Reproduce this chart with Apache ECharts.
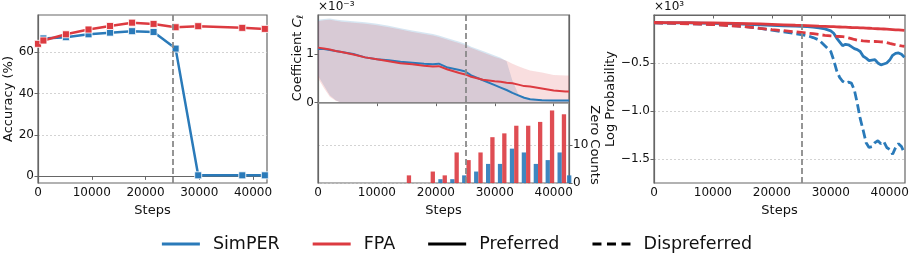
<!DOCTYPE html>
<html><head><meta charset="utf-8">
<script src="https://cdn.jsdelivr.net/npm/echarts@6/dist/echarts.min.js"></script>
<style>html,body{margin:0;padding:0;background:#fff}#c{width:914px;height:262px}</style>
</head><body><div id="c"></div>
<script>
// ---------- data ----------
const stepTicks = [0, 10000, 20000, 30000, 40000];
const dividerStep = 25000;

// Panel 1: accuracy
const accSteps = [0, 1000, 5200, 9400, 13400, 17500, 21500, 25600, 29800, 38000, 42200];
const accSimPER = [null, 66.5, 67.1, 68.5, 69.3, 70.0, 69.6, 61.6, 0.5, 0.5, 0.5];
const accFPA = [63.9, 65.5, 68.5, 70.8, 72.5, 74.1, 73.5, 71.9, 72.4, 71.6, 71.1];
const accTicks = [0, 20, 40, 60];

// Panel 2: coefficient (x1e-3) and zero counts
const coefSteps = [0, 1000, 2000, 3000, 4000, 6000, 8000, 10000, 12000, 14000, 16000, 18000, 19500, 20500, 22000, 24000, 25000, 26000, 28000, 30000, 31000, 32000, 33000, 34000, 35000, 36000, 38000, 40000, 42000, 42600];
const coefSimPER = [1.10, 1.10, 1.08, 1.06, 1.04, 1.00, 0.93, 0.89, 0.87, 0.84, 0.82, 0.80, 0.79, 0.80, 0.72, 0.67, 0.64, 0.56, 0.46, 0.36, 0.31, 0.26, 0.20, 0.15, 0.10, 0.07, 0.05, 0.045, 0.043, 0.043];
const coefFPA = [1.13, 1.11, 1.09, 1.06, 1.04, 0.99, 0.93, 0.89, 0.85, 0.81, 0.79, 0.76, 0.74, 0.75, 0.68, 0.61, 0.58, 0.53, 0.47, 0.44, 0.43, 0.41, 0.40, 0.37, 0.34, 0.33, 0.29, 0.25, 0.23, 0.23];
const coefSimPERUpper = [1.70, 1.72, 1.73, 1.71, 1.69, 1.67, 1.65, 1.62, 1.58, 1.53, 1.48, 1.44, 1.41, 1.38, 1.32, 1.25, 1.21, 1.15, 1.06, 0.97, 0.92, 0.85, 0.45, 0.18, 0.10, 0.08, 0.07, 0.06, 0.06, 0.06];
const coefSimPERLower = [0.55, 0.35, 0.15, 0.05, 0, 0, 0, 0, 0, 0, 0, 0, 0, 0, 0, 0, 0, 0, 0, 0, 0, 0, 0, 0, 0, 0, 0, 0, 0, 0];
const coefFPAUpper = [1.67, 1.69, 1.70, 1.68, 1.66, 1.64, 1.62, 1.59, 1.55, 1.50, 1.45, 1.41, 1.38, 1.35, 1.29, 1.22, 1.18, 1.12, 1.03, 0.94, 0.90, 0.86, 0.80, 0.75, 0.70, 0.66, 0.62, 0.57, 0.56, 0.56];
const coefFPALower = [0.50, 0.30, 0.12, 0.04, 0, 0, 0, 0, 0, 0, 0, 0, 0, 0, 0, 0, 0, 0, 0, 0, 0, 0, 0, 0, 0, 0, 0, 0, 0, 0];
const coefTicks = [0, 1];
const zeroBins = [15070, 17100, 19120, 21150, 23170, 25190, 27220, 29240, 31260, 33290, 35310, 37340, 39360, 41380, 43000];
const zeroSimPER = [0, 0, 0, 1, 1, 2, 3, 5, 5, 9, 8, 5, 6, 8, 2];
const zeroFPA = [2, 0, 3, 2, 8, 6, 8, 12, 13, 15, 15, 16, 19, 18, 0];
const zeroTicks = [0, 10];

// Panel 3: log probability (x1e3)
const logSteps = [0, 2000, 4000, 6000, 8000, 10000, 12000, 14000, 16000, 18000, 20000, 22000, 24000, 25000, 26000, 27000, 28000, 29000, 30000, 30500, 31000, 31500, 32000, 32500, 33000, 33500, 34000, 34500, 35000, 35500, 36000, 36500, 37000, 37500, 38000, 38500, 39000, 39500, 40000, 40500, 41000, 41500, 42000, 42500];
const logPrefSimPER = [-0.080, -0.081, -0.082, -0.083, -0.085, -0.087, -0.090, -0.093, -0.097, -0.103, -0.108, -0.112, -0.116, -0.119, -0.122, -0.127, -0.135, -0.145, -0.165, -0.19, -0.24, -0.28, -0.32, -0.305, -0.31, -0.33, -0.35, -0.36, -0.38, -0.43, -0.45, -0.475, -0.47, -0.465, -0.50, -0.52, -0.51, -0.50, -0.47, -0.42, -0.40, -0.395, -0.41, -0.44];
const logDispSimPER = [-0.082, -0.084, -0.087, -0.090, -0.094, -0.099, -0.106, -0.114, -0.124, -0.140, -0.158, -0.175, -0.195, -0.205, -0.215, -0.235, -0.26, -0.32, -0.38, -0.47, -0.58, -0.65, -0.69, -0.71, -0.70, -0.71, -0.78, -0.92, -1.08, -1.20, -1.33, -1.38, -1.37, -1.33, -1.31, -1.34, -1.32, -1.38, -1.40, -1.45, -1.38, -1.34, -1.37, -1.44];
const logPrefFPA = [-0.078, -0.079, -0.079, -0.080, -0.081, -0.083, -0.085, -0.087, -0.089, -0.093, -0.097, -0.102, -0.107, -0.109, -0.111, -0.113, -0.116, -0.118, -0.121, -0.122, -0.124, -0.125, -0.126, -0.127, -0.128, -0.130, -0.131, -0.132, -0.134, -0.135, -0.137, -0.138, -0.140, -0.141, -0.143, -0.145, -0.146, -0.148, -0.150, -0.152, -0.154, -0.156, -0.158, -0.160];
const logDispFPA = [-0.082, -0.085, -0.088, -0.091, -0.095, -0.100, -0.107, -0.115, -0.125, -0.140, -0.152, -0.163, -0.176, -0.182, -0.188, -0.195, -0.203, -0.212, -0.218, -0.220, -0.222, -0.224, -0.226, -0.230, -0.238, -0.246, -0.255, -0.262, -0.267, -0.270, -0.272, -0.274, -0.275, -0.276, -0.278, -0.280, -0.282, -0.288, -0.296, -0.303, -0.310, -0.316, -0.322, -0.327];
const logTicks = [-1.5, -1.0, -0.5];

const legendNames = ['SimPER', 'FPA', 'Preferred', 'Dispreferred'];

// ---------- chart ----------
const FONT = 'DejaVu Sans';
const BLUE = '#2a7ab9', RED = '#dc3a40', GRAYDASH = '#8a8a8a', FRAME = '#666';
const stepMax = 42600;
const pairs = (xs, ys) => xs.map((x, i) => [x, ys[i]]);
const minus = v => (v < 0 ? '\u2212' : '') + Math.abs(v).toFixed(1);
const plain = v => String(v);

function xAxisFor(g) {
  return {
    type: 'value', gridIndex: g, min: 0, max: stepMax,
    name: 'Steps', nameLocation: 'middle', nameGap: 16,
    nameTextStyle: { fontFamily: FONT, fontSize: 13, color: '#111' },
    axisLine: { show: true, lineStyle: { color: FRAME, width: 1.2 } },
    axisTick: { show: true, length: 3.5, lineStyle: { color: FRAME }, customValues: stepTicks },
    axisLabel: { customValues: stepTicks, formatter: plain, fontFamily: FONT, fontSize: 12, color: '#111', margin: 4 },
    splitLine: { show: false }
  };
}
const gridStyle = { show: true, borderColor: FRAME, borderWidth: 1.2, backgroundColor: 'transparent', containLabel: false };
const dotted = { show: true, lineStyle: { color: '#c8c8c8', type: [2, 2], width: 0.8 } };
const divider = () => ({ silent: true, symbol: 'none', animation: false, label: { show: false },
  lineStyle: { color: GRAYDASH, width: 1.8, type: [6, 3] }, data: [{ xAxis: dividerStep }] });

function bandSeries(name, lower, upper, fill) {
  return {
    name, type: 'custom', xAxisIndex: 1, yAxisIndex: 1, z: 1, silent: true,
    data: coefSteps.map((x, i) => [x, lower[i], upper[i]]),
    encode: { x: 0, y: [1, 2] },
    renderItem: (params, api) => {
      if (params.dataIndex !== 0) return null;
      const top = coefSteps.map((x, i) => api.coord([x, upper[i]]));
      const bot = coefSteps.map((x, i) => api.coord([x, lower[i]])).reverse();
      return { type: 'polygon', shape: { points: top.concat(bot) }, style: { fill: fill } };
    }
  };
}

const lineIcon = 'path://M0,0h38v3h-38z';
const dashIcon = 'path://M0,0h9v3h-9z M14.5,0h9v3h-9z M29,0h9v3h-9z';

const option = {
  animation: false,
  grid: [
    Object.assign({ left: 38, top: 15, width: 229, height: 168 }, gridStyle),
    Object.assign({ left: 318, top: 15, width: 251, height: 168 }, gridStyle),
    Object.assign({ left: 654, top: 15, width: 251, height: 168 }, gridStyle)
  ],
  xAxis: [xAxisFor(0), xAxisFor(1), xAxisFor(2)],
  yAxis: [
    { type: 'value', gridIndex: 0, min: -3.2, max: 77.8,
      name: 'Accuracy (%)', nameLocation: 'middle', nameGap: 21,
      nameTextStyle: { fontFamily: FONT, fontSize: 13, color: '#111' },
      axisLine: { show: true, lineStyle: { color: FRAME, width: 1.2 } },
      axisTick: { show: true, length: 3.5, lineStyle: { color: FRAME }, customValues: accTicks },
      axisLabel: { customValues: accTicks, fontFamily: FONT, fontSize: 12, color: '#111', margin: 4 },
      splitLine: dotted },
    { type: 'value', gridIndex: 1, min: -1.65, max: 1.8,
      axisLine: { show: true, lineStyle: { color: FRAME, width: 1.2 } },
      axisTick: { show: true, length: 3.5, lineStyle: { color: FRAME }, customValues: coefTicks },
      axisLabel: { customValues: coefTicks, fontFamily: FONT, fontSize: 12, color: '#111', margin: 4 },
      splitLine: { show: false } },
    { type: 'value', gridIndex: 1, position: 'right', min: 0, max: 44,
      axisLine: { show: true, lineStyle: { color: FRAME, width: 1.2 } },
      axisTick: { show: true, length: 3.5, lineStyle: { color: FRAME }, customValues: zeroTicks },
      axisLabel: { customValues: zeroTicks, fontFamily: FONT, fontSize: 12, color: '#111', margin: 4 },
      splitLine: dotted },
    { type: 'value', gridIndex: 2, min: -1.75, max: 0,
      name: 'Log Probability', nameLocation: 'middle', nameGap: 36,
      nameTextStyle: { fontFamily: FONT, fontSize: 13, color: '#111' },
      axisLine: { show: true, lineStyle: { color: FRAME, width: 1.2 } },
      axisTick: { show: true, length: 3.5, lineStyle: { color: FRAME }, customValues: logTicks },
      axisLabel: { customValues: logTicks, formatter: minus, fontFamily: FONT, fontSize: 12, color: '#111', margin: 4 },
      splitLine: dotted }
  ],
  legend: {
    data: [
      { name: 'SimPER', icon: lineIcon },
      { name: 'FPA', icon: lineIcon },
      { name: 'Preferred', icon: lineIcon },
      { name: 'Dispreferred', icon: dashIcon }
    ],
    left: 'center', top: 230, itemWidth: 38, itemHeight: 3, itemGap: 33,
    textStyle: { fontFamily: FONT, fontSize: 17.5, color: '#111', padding: [0, 0, 0, 8] },
    selectedMode: false
  },
  graphic: [
    { type: 'text', x: 318, y: 1, style: { text: '\u00d710\u207b\u00b3', font: '12px "DejaVu Sans"', fill: '#111' } },
    { type: 'text', x: 654, y: 1, style: { text: '\u00d710\u00b3', font: '12px "DejaVu Sans"', fill: '#111' } },
    { type: 'text', x: 298, y: 58, rotation: Math.PI / 2,
      style: { text: 'Coefficient {i|C}{s|\u2113}', font: '13px "DejaVu Sans"', fill: '#111', align: 'center', verticalAlign: 'middle',
        rich: { i: { fontStyle: 'italic', fontFamily: FONT, fontSize: 13 }, s: { fontStyle: 'italic', fontFamily: FONT, fontSize: 9, padding: [6, 0, 0, 0] } } } },
    { type: 'text', x: 594, y: 145, rotation: -Math.PI / 2,
      style: { text: 'Zero Counts', font: '13px "DejaVu Sans"', fill: '#111', align: 'center', verticalAlign: 'middle' } }
  ],
  series: [
    // Panel 1
    { name: 'SimPER acc', type: 'line', xAxisIndex: 0, yAxisIndex: 0, data: pairs(accSteps, accSimPER),
      symbol: 'rect', symbolSize: 7, lineStyle: { color: BLUE, width: 2.5 },
      itemStyle: { color: BLUE, borderColor: '#fff', borderWidth: 0.8 }, z: 3 },
    { name: 'FPA acc', type: 'line', xAxisIndex: 0, yAxisIndex: 0, data: pairs(accSteps, accFPA),
      symbol: 'rect', symbolSize: 7, lineStyle: { color: RED, width: 2.5 },
      itemStyle: { color: RED, borderColor: '#fff', borderWidth: 0.8 }, z: 4,
      markLine: divider() },
    // Panel 2 bands
    bandSeries('simBand', coefSimPERLower, coefSimPERUpper, 'rgba(42,122,185,0.19)'),
    bandSeries('fpaBand', coefFPALower, coefFPAUpper, 'rgba(220,58,64,0.17)'),
    // Panel 2 bars
    { name: 'SimPER zero', type: 'bar', xAxisIndex: 1, yAxisIndex: 2, data: pairs(zeroBins, zeroSimPER),
      barWidth: 4.3, barGap: '0%', itemStyle: { color: BLUE, opacity: 0.9 }, z: 2 },
    { name: 'FPA zero', type: 'bar', xAxisIndex: 1, yAxisIndex: 2, data: pairs(zeroBins, zeroFPA),
      barWidth: 4.3, barGap: '0%', itemStyle: { color: RED, opacity: 0.9 }, z: 2 },
    // Panel 2 lines
    { name: 'SimPER coef', type: 'line', xAxisIndex: 1, yAxisIndex: 1, data: pairs(coefSteps, coefSimPER),
      symbol: 'none', lineStyle: { color: BLUE, width: 2 }, z: 3 },
    { name: 'FPA coef', type: 'line', xAxisIndex: 1, yAxisIndex: 1, data: pairs(coefSteps, coefFPA),
      symbol: 'none', lineStyle: { color: RED, width: 2 }, z: 4,
      markLine: { silent: true, symbol: 'none', label: { show: false },
        data: [
          { yAxis: 0, lineStyle: { color: '#909090', width: 1.6, type: 'solid' } },
          { xAxis: dividerStep, lineStyle: { color: GRAYDASH, width: 1.8, type: [6, 3] } }
        ] } },
    // Panel 3
    { name: 'SimPER pref', type: 'line', xAxisIndex: 2, yAxisIndex: 3, data: pairs(logSteps, logPrefSimPER),
      symbol: 'none', lineStyle: { color: BLUE, width: 2.8 }, z: 3 },
    { name: 'SimPER disp', type: 'line', xAxisIndex: 2, yAxisIndex: 3, data: pairs(logSteps, logDispSimPER),
      symbol: 'none', lineStyle: { color: BLUE, width: 2.8, type: [9, 4] }, z: 3 },
    { name: 'FPA pref', type: 'line', xAxisIndex: 2, yAxisIndex: 3, data: pairs(logSteps, logPrefFPA),
      symbol: 'none', lineStyle: { color: RED, width: 2.8 }, z: 4 },
    { name: 'FPA disp', type: 'line', xAxisIndex: 2, yAxisIndex: 3, data: pairs(logSteps, logDispFPA),
      symbol: 'none', lineStyle: { color: RED, width: 2.8, type: [9, 4] }, z: 4,
      markLine: divider() },
    // legend-only series
    { name: 'SimPER', type: 'line', xAxisIndex: 2, yAxisIndex: 3, data: [], symbol: 'none', lineStyle: { color: BLUE, width: 2.5 }, itemStyle: { color: BLUE } },
    { name: 'FPA', type: 'line', xAxisIndex: 2, yAxisIndex: 3, data: [], symbol: 'none', lineStyle: { color: RED, width: 2.5 }, itemStyle: { color: RED } },
    { name: 'Preferred', type: 'line', xAxisIndex: 2, yAxisIndex: 3, data: [], symbol: 'none', lineStyle: { color: '#000', width: 2.5 }, itemStyle: { color: '#000' } },
    { name: 'Dispreferred', type: 'line', xAxisIndex: 2, yAxisIndex: 3, data: [], symbol: 'none', lineStyle: { color: '#000', width: 2.5 }, itemStyle: { color: '#000' } }
  ]
};
const chart = echarts.init(document.getElementById('c'), null, { renderer: 'canvas' });
chart.setOption(option);
</script>
</body></html>
